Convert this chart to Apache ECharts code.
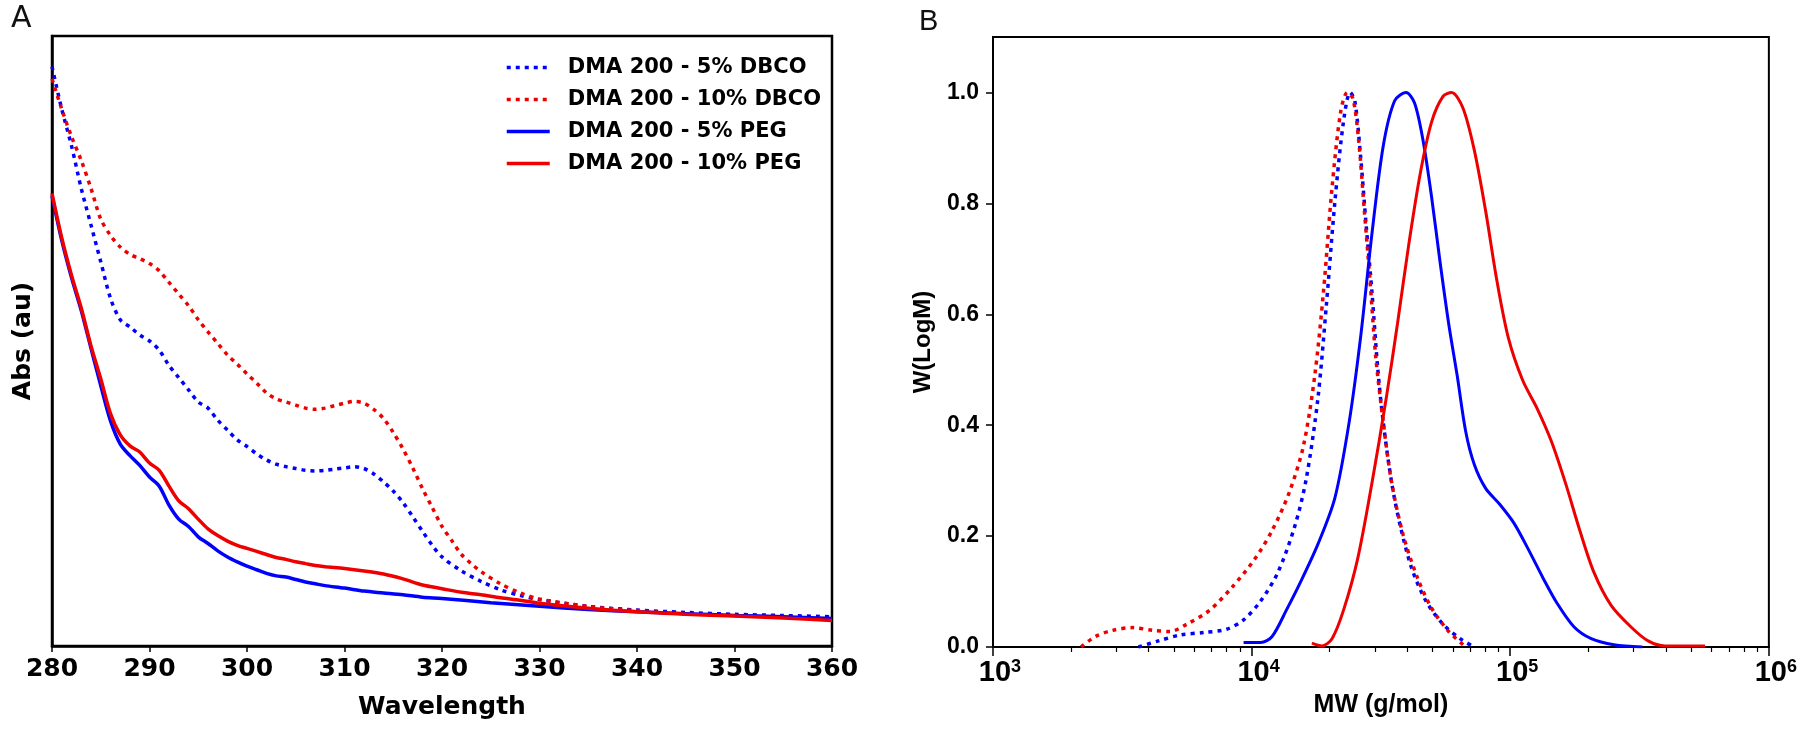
<!DOCTYPE html>
<html><head><meta charset="utf-8">
<script src="https://cdn.jsdelivr.net/npm/echarts@6/dist/echarts.min.js"></script>
<style>html,body{margin:0;padding:0;background:#fff}#c{width:1800px;height:735px}</style>
</head><body><div id="c"></div>
<script>
// ---------- Panel A: UV absorbance ----------
const seriesNamesA = ['DMA 200 - 5% DBCO', 'DMA 200 - 10% DBCO', 'DMA 200 - 5% PEG', 'DMA 200 - 10% PEG'];
const xTicksA = [280, 290, 300, 310, 320, 330, 340, 350, 360];

const wl5Dbco = [280,281,282,283,284,285,286,287,288,289,290,291,292,293,294,295,296,297,298,299,300,301,302,303,304,305,306,307,308,309,310,311,312,313,314,315,316,317,318,319,320,322,324,326,328,330,335,340,345,350,355,360];
const abs5Dbco = [0.95,0.88,0.82,0.75,0.69,0.63,0.57,0.535,0.523,0.51,0.50,0.485,0.46,0.44,0.42,0.40,0.39,0.37,0.354,0.338,0.327,0.315,0.305,0.298,0.294,0.291,0.288,0.287,0.288,0.29,0.292,0.294,0.291,0.282,0.269,0.254,0.235,0.212,0.188,0.165,0.146,0.123,0.106,0.092,0.083,0.076,0.065,0.059,0.055,0.052,0.050,0.048];

const wl10Dbco = [280,281,282,283,284,285,286,287,288,289,290,291,292,293,294,295,296,297,298,299,300,301,302,303,304,305,306,307,308,309,310,311,312,313,314,315,316,317,318,319,320,321,322,323,324,326,328,330,335,340,345,350,355,360];
const abs10Dbco = [0.93,0.88,0.835,0.796,0.75,0.70,0.673,0.654,0.642,0.635,0.627,0.615,0.596,0.577,0.558,0.535,0.515,0.496,0.477,0.462,0.446,0.431,0.415,0.405,0.40,0.395,0.39,0.388,0.39,0.394,0.398,0.401,0.398,0.388,0.373,0.35,0.323,0.292,0.258,0.227,0.196,0.173,0.15,0.135,0.122,0.102,0.087,0.077,0.065,0.058,0.053,0.050,0.048,0.044];

const wl5Peg = [280,281,282,283,284,285,286,287,288,289,290,291,292,293,294,295,296,297,298,299,300,301,302,303,304,305,306,307,308,310,312,314,316,318,320,325,330,335,340,345,350,355,360];
const abs5Peg = [0.738,0.665,0.604,0.55,0.488,0.427,0.369,0.331,0.312,0.296,0.277,0.262,0.231,0.208,0.196,0.179,0.168,0.156,0.146,0.138,0.131,0.125,0.119,0.115,0.113,0.109,0.105,0.102,0.099,0.095,0.09,0.087,0.084,0.08,0.078,0.071,0.065,0.06,0.056,0.053,0.05,0.048,0.045];

const wl10Peg = [280,281,282,283,284,285,286,287,288,289,290,291,292,293,294,295,296,297,298,299,300,301,302,303,304,305,306,307,308,310,312,314,316,318,320,322,324,326,328,330,335,340,345,350,355,360];
const abs10Peg = [0.742,0.669,0.608,0.554,0.492,0.438,0.381,0.346,0.328,0.318,0.30,0.288,0.262,0.238,0.225,0.208,0.192,0.181,0.172,0.165,0.16,0.155,0.15,0.145,0.142,0.138,0.135,0.132,0.13,0.127,0.123,0.118,0.11,0.10,0.094,0.088,0.084,0.079,0.075,0.07,0.062,0.056,0.052,0.049,0.046,0.042];

// ---------- Panel B: GPC molecular weight distributions ----------
const yTicksB = [0, 0.2, 0.4, 0.6, 0.8, 1.0];
const minorTicksB = [2000,3000,4000,5000,6000,7000,8000,9000,20000,30000,40000,50000,60000,70000,80000,90000,200000,300000,400000,500000,600000,700000,800000,900000];

const mw5Dbco = [3650,4360,5330,6530,8000,9310,10840,12620,14690,16260,18030,19450,20990,22650,24040,25060,26360,27730,29170,30690,32290,34830,37580,41590,47210,54950,63970,72610];
const w5Dbco = [0,0.011,0.022,0.026,0.032,0.049,0.083,0.134,0.218,0.303,0.447,0.616,0.803,0.947,1.0,0.985,0.887,0.76,0.642,0.506,0.405,0.295,0.218,0.142,0.083,0.041,0.015,0];

const mw10Dbco = [2190,2490,2900,3470,4140,4820,5610,6870,8410,10300,12000,13960,15850,17540,18970,20460,22080,23440,24660,25940,27290,28710,30200,32290,34830,38550,43750,49660,57810,67300];
const w10Dbco = [0,0.019,0.03,0.035,0.03,0.028,0.041,0.066,0.108,0.159,0.21,0.278,0.362,0.489,0.642,0.828,0.964,1.0,0.989,0.913,0.786,0.659,0.523,0.405,0.295,0.202,0.125,0.07,0.028,0];

const mw5Peg = [9310,10840,12000,13610,15450,18030,20990,23820,26360,29170,32290,35730,39540,42660,46030,49660,53580,57810,62370,67300,72610,80350,91200,103500,117500,133700,151700,176600,205600,251800,324300];
const w5Peg = [0.008,0.008,0.019,0.066,0.117,0.185,0.269,0.405,0.557,0.744,0.904,0.985,1.0,0.981,0.913,0.811,0.693,0.583,0.489,0.388,0.329,0.286,0.257,0.223,0.176,0.125,0.079,0.036,0.015,0.004,0];

const mw10Peg = [17100,18750,20460,22650,25700,29170,33110,36640,40550,44880,49660,54950,59290,65620,72610,80350,88920,98400,111700,127100,144200,163700,185800,210900,245500,293100,341200,397200,566200];
const w10Peg = [0.007,0.002,0.015,0.066,0.159,0.295,0.447,0.583,0.727,0.854,0.947,0.993,1.0,0.972,0.896,0.786,0.659,0.557,0.481,0.43,0.371,0.295,0.21,0.134,0.075,0.036,0.011,0.002,0.002];

const BLUE = '#0000ff', RED = '#ee0000';
const zip = (xs, ys) => xs.map((x, i) => [x, ys[i]]);
const dotted = [4, 5];

function lineSeries(name, xi, yi, data, color, isDotted, width, z) {
  return {
    name, type: 'line', xAxisIndex: xi, yAxisIndex: yi, data,
    showSymbol: false, symbol: 'none', smooth: 0.3, z: z, animation: false,
    lineStyle: { color, width, type: isDotted ? dotted : 'solid', cap: 'butt' },
    itemStyle: { color }
  };
}

const fontA = 'DejaVu Sans';
const fontB = 'Liberation Sans';

const chart = echarts.init(document.getElementById('c'), null, { renderer: 'canvas' });
chart.setOption({
  animation: false,
  backgroundColor: '#fff',
  graphic: [
    { type: 'text', left: 11, top: 4, style: { text: 'A', font: 'normal 30px "DejaVu Sans"', fill: '#111' } },
    { type: 'text', left: 919, top: 7, style: { text: 'B', font: 'normal 29px "Liberation Sans"', fill: '#111' } }
  ],
  legend: {
    data: seriesNamesA, orient: 'vertical', left: 500, top: 52,
    itemWidth: 43, itemHeight: 20, itemGap: 11,
    itemStyle: { opacity: 0, borderWidth: 0 },
    lineStyle: { width: 3.5 },
    textStyle: { fontFamily: fontA, fontWeight: 'bold', fontSize: 21, color: '#000', lineHeight: 20, padding: [0, 0, 0, 13] }
  },
  grid: [
    { left: 52, top: 36, width: 780, height: 610, show: true, borderColor: '#000', borderWidth: 2.5, backgroundColor: 'transparent' },
    { left: 993, top: 37, width: 780, height: 610, show: true, borderColor: '#000', borderWidth: 2, backgroundColor: 'transparent' }
  ],
  xAxis: [
    { type: 'value', gridIndex: 0, min: 280, max: 360, interval: 10,
      axisLine: { show: true, lineStyle: { color: '#000', width: 2.5 } },
      axisTick: { show: true, length: 6, lineStyle: { color: '#000', width: 1.5 } },
      axisLabel: { show: true, margin: 11, color: '#000', fontFamily: fontA, fontWeight: 'bold', fontSize: 25 },
      splitLine: { show: false },
      name: 'Wavelength', nameLocation: 'middle', nameGap: 49,
      nameTextStyle: { color: '#000', fontFamily: fontA, fontWeight: 'bold', fontSize: 25 } },
    { type: 'log', gridIndex: 1, min: 1000, max: 1000000, logBase: 10,
      axisLine: { show: true, lineStyle: { color: '#000', width: 2 } },
      axisTick: { show: true, length: 9, lineStyle: { color: '#000', width: 1.5 } },
      axisLabel: { show: true, margin: 11, color: '#000',
        formatter: v => '{b|10}{s|' + Math.round(Math.log10(v)) + '}',
        rich: {
          b: { fontFamily: fontB, fontWeight: 'bold', fontSize: 29, color: '#000', padding: [0, 0, 0, 14] },
          s: { fontFamily: fontB, fontWeight: 'bold', fontSize: 18, color: '#000', verticalAlign: 'top', padding: [0, 0, 12, 0] }
        } },
      splitLine: { show: false }, minorTick: { show: false },
      name: 'MW (g/mol)', nameLocation: 'middle', nameGap: 43,
      nameTextStyle: { color: '#000', fontFamily: fontB, fontWeight: 'bold', fontSize: 25 } },
    { type: 'log', gridIndex: 1, min: 1000, max: 1000000, logBase: 10, position: 'bottom',
      axisLine: { show: false },
      axisTick: { show: true, length: 5, customValues: minorTicksB, lineStyle: { color: '#000', width: 1.2 } },
      axisLabel: { show: false }, splitLine: { show: false } }
  ],
  yAxis: [
    { type: 'value', gridIndex: 0, min: 0, max: 1,
      axisLine: { show: true, lineStyle: { color: '#000', width: 2.5 } },
      axisTick: { show: false }, axisLabel: { show: false }, splitLine: { show: false },
      name: 'Abs (au)', nameLocation: 'middle', nameGap: 16, nameRotate: 90,
      nameTextStyle: { color: '#000', fontFamily: fontA, fontWeight: 'bold', fontSize: 25 } },
    { type: 'value', gridIndex: 1, min: 0, max: 1.1, interval: 0.2,
      axisLine: { show: true, lineStyle: { color: '#000', width: 2 } },
      axisTick: { show: true, length: 7, customValues: yTicksB, lineStyle: { color: '#000', width: 1.5 } },
      axisLabel: { show: true, margin: 14, customValues: yTicksB, color: '#000',
        fontFamily: fontB, fontWeight: 'bold', fontSize: 23, formatter: v => Number(v).toFixed(1) },
      splitLine: { show: false },
      name: 'W(LogM)', nameLocation: 'middle', nameGap: 58, nameRotate: 90,
      nameTextStyle: { color: '#000', fontFamily: fontB, fontWeight: 'bold', fontSize: 24 } }
  ],
  series: [
    lineSeries(seriesNamesA[0], 0, 0, zip(wl5Dbco, abs5Dbco), BLUE, true, 3.5, 2),
    lineSeries(seriesNamesA[1], 0, 0, zip(wl10Dbco, abs10Dbco), RED, true, 3.5, 3),
    lineSeries(seriesNamesA[2], 0, 0, zip(wl5Peg, abs5Peg), BLUE, false, 3.5, 4),
    lineSeries(seriesNamesA[3], 0, 0, zip(wl10Peg, abs10Peg), RED, false, 3.5, 5),
    lineSeries('B 5% DBCO', 1, 1, zip(mw5Dbco, w5Dbco), BLUE, true, 3.5, 2),
    lineSeries('B 10% DBCO', 1, 1, zip(mw10Dbco, w10Dbco), RED, true, 3.5, 3),
    lineSeries('B 5% PEG', 1, 1, zip(mw5Peg, w5Peg), BLUE, false, 3, 4),
    lineSeries('B 10% PEG', 1, 1, zip(mw10Peg, w10Peg), RED, false, 3, 5)
  ]
});
</script></body></html>
